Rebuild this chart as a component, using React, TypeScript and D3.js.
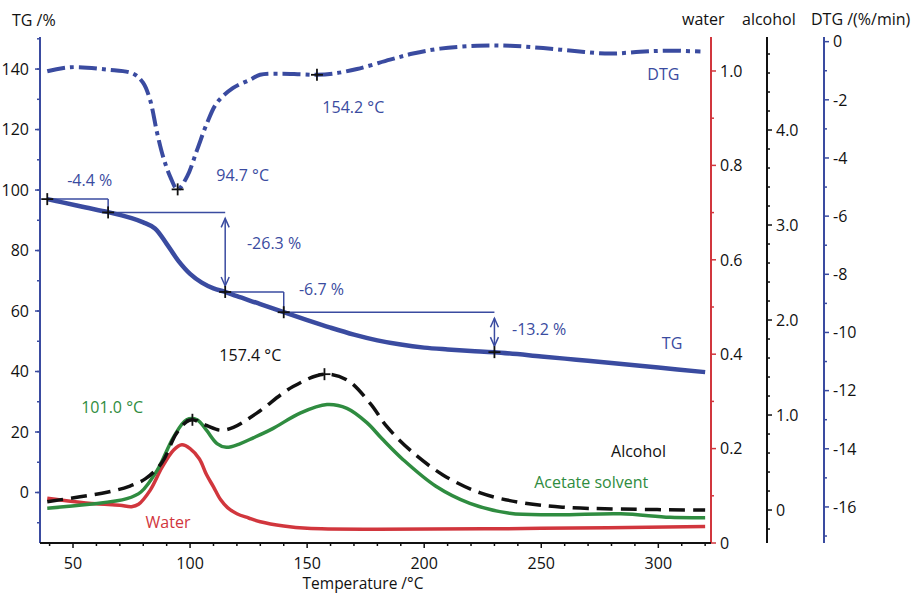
import React from 'react';
import * as d3 from 'd3';

// TG curve (%), left axis
const tgTemp = [39, 45, 55, 65, 75, 80, 85, 90, 95, 100, 105, 110, 115, 120, 130, 140, 150, 160, 170, 180, 190, 200, 210, 220, 230, 250, 265, 280, 300, 320];
const tgValues = [97.0, 96.0, 94.3, 92.7, 90.7, 89.3, 87.3, 82.2, 76.6, 72.3, 69.4, 67.5, 66.3, 64.9, 62.3, 59.6, 57.0, 54.5, 52.2, 50.3, 48.9, 47.9, 47.3, 46.8, 46.4, 45.0, 43.9, 42.8, 41.3, 39.8];

// DTG curve (%/min), right-most axis
const dtgTemp = [39, 48.8, 64.6, 75.7, 79.9, 82.9, 85.9, 88.5, 91.5, 94.7, 98.7, 103, 107.3, 111.5, 118.4, 125.6, 129.9, 138.4, 147, 154.2, 161.1, 171.3, 185.4, 195.2, 206.8, 222.6, 236.7, 250.8, 265.3, 279.4, 292.2, 303.7, 318];
const dtgValues = [-1.02, -0.88, -0.96, -1.1, -1.41, -2.0, -3.13, -3.96, -4.64, -5.08, -4.64, -3.72, -2.79, -2.1, -1.59, -1.31, -1.14, -1.1, -1.12, -1.14, -1.1, -0.94, -0.62, -0.41, -0.24, -0.14, -0.14, -0.22, -0.33, -0.41, -0.35, -0.31, -0.34];

// water signal, red axis
const waterTemp = [39, 50, 60, 70, 75, 78, 83, 88, 93, 96.5, 100, 104, 107, 110, 113, 116, 120, 125, 130, 140, 150, 180, 250, 320];
const waterValues = [0.095, 0.088, 0.083, 0.08, 0.077, 0.082, 0.112, 0.16, 0.197, 0.208, 0.2, 0.178, 0.145, 0.119, 0.092, 0.075, 0.062, 0.053, 0.045, 0.036, 0.031, 0.029, 0.031, 0.035];

// alcohol signal, black axis
const alcoholTemp = [39, 53, 65, 74, 81, 88, 94, 98.5, 101, 107, 113, 118.5, 128.5, 144, 157.4, 167, 177, 184, 194, 208, 224, 241, 259, 284, 320];
const alcoholValues = [0.087, 0.14, 0.19, 0.25, 0.33, 0.5, 0.8, 0.93, 0.95, 0.89, 0.84, 0.87, 1.02, 1.3, 1.43, 1.37, 1.12, 0.88, 0.63, 0.37, 0.18, 0.08, 0.03, 0.01, 0.0];

// acetate solvent signal (drawn on alcohol axis)
const acetateTemp = [39, 57, 73, 79, 86, 93, 98.5, 103, 107, 111.5, 115.5, 121.5, 127, 135.5, 147, 158.5, 167, 175.5, 182, 191, 205, 219.5, 236.5, 256.5, 284, 305, 320];
const acetateValues = [0.02, 0.06, 0.12, 0.19, 0.42, 0.77, 0.95, 0.95, 0.84, 0.7, 0.66, 0.7, 0.76, 0.86, 1.02, 1.11, 1.07, 0.92, 0.75, 0.53, 0.25, 0.07, -0.035, -0.05, -0.04, -0.077, -0.08];

// TG step evaluation points and labels
const stepTemp = [39, 65, 115, 140, 230];
const stepTG = [97.0, 92.6, 66.3, 59.6, 46.4];
const stepLabels = ['-4.4 %', '-26.3 %', '-6.7 %', '-13.2 %'];
const stepArrow = [false, true, false, true];

// tick values
const xTicks = [50, 100, 150, 200, 250, 300];
const tgTicks = [0, 20, 40, 60, 80, 100, 120, 140];
const waterTicks = [0, 0.2, 0.4, 0.6, 0.8, 1.0];
const alcoholTicks = [0, 1, 2, 3, 4];
const dtgTicks = [0, -2, -4, -6, -8, -10, -12, -14, -16];

const W = 912;
const H = 593;
const left = 40;
const right = 711;
const top = 37;
const bottom = 543;
const waterX = 711;
const alcoholX = 767;
const dtgX = 824;

const BLUE = '#3a4ba0';
const RED = '#d1363d';
const GREEN = '#2f8c40';
const FONT = "'Open Sans', 'Noto Sans', sans-serif";
const FS = 16;

const x = d3.scaleLinear().domain([35.9, 322.5]).range([left, right]);
const yTG = d3.scaleLinear().domain([-16.7, 150.6]).range([bottom, top]);
const yWater = d3.scaleLinear().domain([0, 1.072]).range([bottom, top]);
const yAlc = d3.scaleLinear().domain([-0.347, 4.979]).range([bottom, top]);
const yDTG = d3.scaleLinear().domain([-17.24, 0.16]).range([bottom, top]);

function linePath(ts: number[], vs: number[], y: d3.ScaleLinear<number, number>) {
  const gen = d3.line<number>()
    .x((_, i) => x(ts[i]))
    .y((v) => y(v))
    .curve(d3.curveCatmullRom.alpha(0.5));
  return gen(vs) || '';
}

function range(a: number, b: number, step: number) {
  const out: number[] = [];
  for (let v = a; v <= b + 1e-9; v += step) out.push(+v.toFixed(4));
  return out;
}

function VAxis({ at, scale, major, minor, color, side, fmt }: any) {
  const dir = side === 'left' ? -1 : 1;
  const [d0, d1] = scale.range();
  return (
    <g>
      <line x1={at} x2={at} y1={d0} y2={d1} stroke={color} strokeWidth={2} />
      {minor.map((v: number) => (
        <line key={'m' + v} x1={at} x2={at + dir * 3} y1={scale(v)} y2={scale(v)} stroke={color} strokeWidth={1.5} />
      ))}
      {major.map((v: number) => (
        <g key={'t' + v}>
          <line x1={at} x2={at + dir * 5} y1={scale(v)} y2={scale(v)} stroke={color} strokeWidth={1.5} />
          <text
            x={side === 'left' ? at - 11 : at + 9}
            y={scale(v)}
            dy="0.36em"
            textAnchor={side === 'left' ? 'end' : 'start'}
            fontSize={FS}
            fill="#111"
          >
            {fmt(v)}
          </text>
        </g>
      ))}
    </g>
  );
}

function Cross({ cx, cy }: { cx: number; cy: number }) {
  return (
    <g stroke="#111" strokeWidth={1.8}>
      <line x1={cx - 6} x2={cx + 6} y1={cy} y2={cy} />
      <line x1={cx} x2={cx} y1={cy - 6} y2={cy + 6} />
    </g>
  );
}

function Chevron({ cx, cy, up }: { cx: number; cy: number; up: boolean }) {
  const s = up ? 1 : -1;
  return <path d={`M${cx - 4},${cy + s * 9} L${cx},${cy} L${cx + 4},${cy + s * 9}`} fill="none" stroke={BLUE} strokeWidth={1.5} />;
}

export default function App() {
  const fmtDec = (v: number) => (v === 0 ? '0' : v.toFixed(1));
  const steps = stepLabels.map((label, i) => {
    const x0 = x(stepTemp[i]);
    const x1 = x(stepTemp[i + 1]);
    const y0 = yTG(stepTG[i]);
    const y1 = yTG(stepTG[i + 1]);
    return { label, x0, x1, y0, y1, arrow: stepArrow[i] };
  });

  return (
    <svg width={W} height={H} style={{ position: 'absolute', left: 0, top: 0, fontFamily: FONT }}>
      <rect width={W} height={H} fill="#fff" />

      {/* axis titles */}
      <text x={12} y={26} fontSize={FS} fill="#111">TG /%</text>
      <text x={682} y={25} fontSize={FS} fill="#111">water</text>
      <text x={742} y={25} fontSize={FS} fill="#111">alcohol</text>
      <text x={811} y={25} fontSize={FS} fill="#111">DTG /(%/min)</text>

      {/* left TG axis */}
      <VAxis at={left} scale={yTG} major={tgTicks} minor={range(-10, 150, 10)} color={BLUE} side="left" fmt={(v: number) => String(v)} />
      {/* right axes */}
      <VAxis at={waterX} scale={yWater} major={waterTicks} minor={range(0.1, 0.9, 0.2)} color={RED} side="right" fmt={fmtDec} />
      <VAxis at={alcoholX} scale={yAlc} major={alcoholTicks} minor={range(-0.2, 4.8, 0.2).filter((v) => Math.abs(v - Math.round(v)) > 0.01)} color="#111" side="right" fmt={fmtDec} />
      <VAxis at={dtgX} scale={yDTG} major={dtgTicks} minor={range(-17, -1, 2)} color={BLUE} side="right" fmt={(v: number) => String(v)} />

      {/* bottom axis */}
      <line x1={left} x2={right} y1={bottom} y2={bottom} stroke="#111" strokeWidth={2} />
      {range(40, 320, 10).map((v) => (
        <line key={'xm' + v} x1={x(v)} x2={x(v)} y1={bottom} y2={bottom + (v % 50 === 0 ? 5 : 3)} stroke="#111" strokeWidth={1.5} />
      ))}
      {xTicks.map((v) => (
        <text key={'xl' + v} x={x(v)} y={569} textAnchor="middle" fontSize={FS} fill="#111">{v}</text>
      ))}
      <text x={363} y={589} textAnchor="middle" fontSize={15.5} fill="#111">Temperature /°C</text>

      {/* gas curves */}
      <path d={linePath(waterTemp, waterValues, yWater)} fill="none" stroke={RED} strokeWidth={3.5} />
      <path d={linePath(acetateTemp, acetateValues, yAlc)} fill="none" stroke={GREEN} strokeWidth={3.5} />
      <path d={linePath(alcoholTemp, alcoholValues, yAlc)} fill="none" stroke="#111" strokeWidth={3.5} strokeDasharray="16,8" />

      {/* TG & DTG */}
      <path d={linePath(dtgTemp, dtgValues, yDTG)} fill="none" stroke={BLUE} strokeWidth={4} strokeDasharray="18,5,4,5" />
      <path d={linePath(tgTemp, tgValues, yTG)} fill="none" stroke={BLUE} strokeWidth={4.5} />

      {/* step annotations */}
      {steps.map((s, i) => (
        <g key={'s' + i}>
          <line x1={s.x0} x2={s.x1} y1={s.y0} y2={s.y0} stroke={BLUE} strokeWidth={1.5} />
          {s.arrow ? (
            <g>
              <line x1={s.x1} x2={s.x1} y1={s.y0 + 6} y2={s.y1 - 6} stroke={BLUE} strokeWidth={1.5} />
              <Chevron cx={s.x1} cy={s.y0 + 6} up={true} />
              <Chevron cx={s.x1} cy={s.y1 - 6} up={false} />
            </g>
          ) : (
            <line x1={s.x1} x2={s.x1} y1={s.y0} y2={s.y1} stroke={BLUE} strokeWidth={1.5} />
          )}
        </g>
      ))}
      {stepTemp.map((t, i) => (
        <Cross key={'c' + i} cx={x(t)} cy={yTG(stepTG[i])} />
      ))}
      <Cross cx={x(94.7)} cy={yDTG(-5.08)} />
      <Cross cx={x(154.2)} cy={yDTG(-1.14)} />
      <Cross cx={x(101.0)} cy={yAlc(0.95)} />
      <Cross cx={x(157.4)} cy={yAlc(1.43)} />

      {/* text annotations */}
      <g fontSize={FS}>
        <text x={x(47.5)} y={yTG(101.5)} fill={BLUE}>{steps[0].label}</text>
        <text x={x(124.3)} y={yTG(80.5)} fill={BLUE}>{steps[1].label}</text>
        <text x={x(146.5)} y={yTG(65.3)} fill={BLUE}>{steps[2].label}</text>
        <text x={x(237.5)} y={yTG(52.1)} fill={BLUE}>{steps[3].label}</text>
        <text x={x(301.5)} y={yTG(47.4)} fill={BLUE}>TG</text>
        <text x={x(295.3)} y={yDTG(-1.32)} fill={BLUE}>DTG</text>
        <text x={x(156.5)} y={yDTG(-2.45)} fill={BLUE}>154.2 °C</text>
        <text x={x(111.2)} y={yDTG(-4.79)} fill={BLUE}>94.7 °C</text>
        <text x={x(112.5)} y={yAlc(1.57)} fill="#111">157.4 °C</text>
        <text x={x(53.5)} y={yAlc(1.02)} fill={GREEN}>101.0 °C</text>
        <text x={x(279.8)} y={yAlc(0.56)} fill="#111">Alcohol</text>
        <text x={x(247)} y={yAlc(0.23)} fill={GREEN}>Acetate solvent</text>
        <text x={x(81)} y={yWater(0.032)} fill={RED}>Water</text>
      </g>
    </svg>
  );
}
